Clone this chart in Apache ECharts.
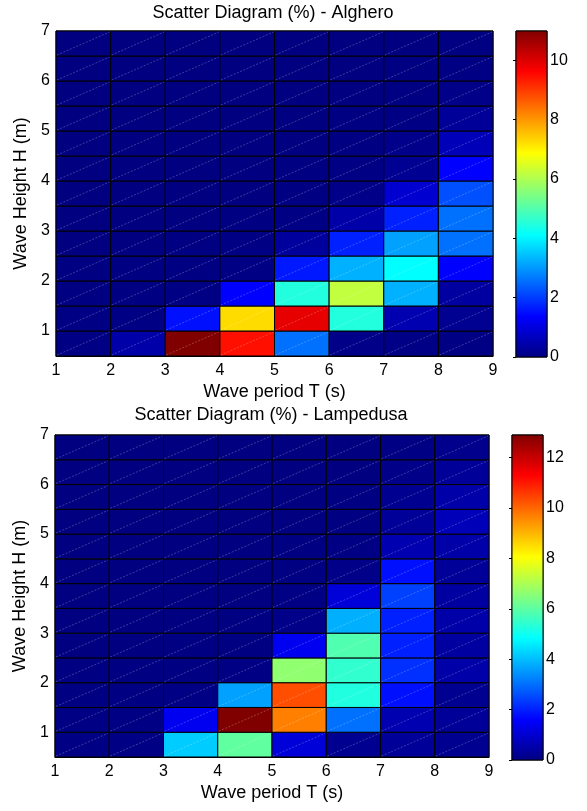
<!DOCTYPE html>
<html><head><meta charset="utf-8">
<script src="https://cdn.jsdelivr.net/npm/echarts@6/dist/echarts.min.js"></script>
<style>html,body{margin:0;padding:0;background:#fff}#c{width:587px;height:811px}</style>
</head><body><div id="c"></div>
<script>
// ---- data ----
const periodBinStarts = [1, 2, 3, 4, 5, 6, 7, 8];               // T bins (s), width 1
const heightBinStarts = [0.5, 1, 1.5, 2, 2.5, 3, 3.5, 4, 4.5, 5, 5.5, 6, 6.5]; // H bins (m), width 0.5
const periodBinWidth = 1;
const heightBinWidth = 0.5;
const xTickValues = [1, 2, 3, 4, 5, 6, 7, 8, 9];
const yTickValues = [1, 2, 3, 4, 5, 6, 7];
const titleAlghero = 'Scatter Diagram (%) - Alghero';
const titleLampedusa = 'Scatter Diagram (%) - Lampedusa';
const xName = 'Wave period T (s)';
const yName = 'Wave Height H (m)';

// rows: H bins bottom -> top ; columns: T bins 1-2 ... 8-9 (percent)
const alghero = [
  [0.05, 0.44, 10.98, 9.45, 2.58, 0.10, 0.08, 0.05],
  [0.05, 0.05, 1.54, 7.24, 9.87, 4.47, 0.52, 0.18],
  [0.03, 0.03, 0.05, 1.37, 4.47, 6.19, 3.27, 0.35],
  [0.02, 0.02, 0.03, 0.05, 1.63, 3.27, 4.12, 1.37],
  [0.01, 0.01, 0.02, 0.05, 0.30, 1.72, 3.10, 2.58],
  [0.01, 0.01, 0.01, 0.02, 0.05, 0.44, 1.72, 2.58],
  [0.00, 0.00, 0.01, 0.01, 0.03, 0.10, 0.87, 2.23],
  [0.00, 0.00, 0.00, 0.01, 0.02, 0.05, 0.20, 1.37],
  [0.00, 0.00, 0.00, 0.00, 0.01, 0.03, 0.12, 0.60],
  [0.00, 0.00, 0.00, 0.00, 0.00, 0.02, 0.05, 0.26],
  [0.00, 0.00, 0.00, 0.00, 0.00, 0.01, 0.03, 0.10],
  [0.00, 0.00, 0.00, 0.00, 0.00, 0.00, 0.02, 0.05],
  [0.00, 0.00, 0.00, 0.00, 0.00, 0.00, 0.01, 0.03]
];
const lampedusa = [
  [0.05, 0.05, 4.19, 6.05, 1.12, 0.20, 0.31, 0.20],
  [0.05, 0.05, 1.42, 12.9, 9.68, 3.03, 0.61, 0.31],
  [0.03, 0.03, 0.05, 3.64, 10.3, 5.24, 1.82, 0.20],
  [0.02, 0.02, 0.03, 0.05, 6.65, 5.45, 2.22, 0.52],
  [0.01, 0.01, 0.02, 0.03, 1.42, 5.85, 2.02, 0.41],
  [0.01, 0.01, 0.01, 0.02, 0.10, 3.83, 2.02, 0.52],
  [0.00, 0.00, 0.01, 0.01, 0.05, 1.12, 2.42, 0.41],
  [0.00, 0.00, 0.00, 0.01, 0.03, 0.10, 1.82, 0.31],
  [0.00, 0.00, 0.00, 0.00, 0.02, 0.05, 0.61, 0.52],
  [0.00, 0.00, 0.00, 0.00, 0.01, 0.03, 0.31, 0.71],
  [0.00, 0.00, 0.00, 0.00, 0.00, 0.02, 0.20, 0.52],
  [0.00, 0.00, 0.00, 0.00, 0.00, 0.01, 0.10, 0.31],
  [0.00, 0.00, 0.00, 0.00, 0.00, 0.00, 0.05, 0.15]
];
const algheroMax = 10.98;
const lampedusaMax = 12.9;
const algheroBarTicks = [0, 2, 4, 6, 8, 10];
const lampedusaBarTicks = [0, 2, 4, 6, 8, 10, 12];

// jet colormap
const jet = ['#000080', '#0000ff', '#0080ff', '#00ffff', '#80ff80', '#ffff00', '#ff8000', '#ff0000', '#800000'];

// ---- build ----
const FONT = 'Liberation Sans, Arial, Helvetica, sans-serif';
function toCells(matrix) {
  const out = [];
  matrix.forEach((row, i) => row.forEach((v, j) => out.push([periodBinStarts[j], heightBinStarts[i], v])));
  return out;
}
function renderCell(params, api) {
  const t = api.value(0), h = api.value(1);
  const p0 = api.coord([t, h]);
  const p1 = api.coord([t + periodBinWidth, h + heightBinWidth]);
  const color = api.visual('color');
  return {
    type: 'group',
    children: [
      { type: 'rect', shape: { x: p0[0], y: p1[1], width: p1[0] - p0[0], height: p0[1] - p1[1] },
        style: { fill: color, stroke: '#000', lineWidth: 1 } },
      { type: 'line', shape: { x1: p0[0] + 1, y1: p0[1] - 1, x2: p1[0] - 1, y2: p1[1] + 1 },
        style: { stroke: 'rgba(255,255,255,0.4)', lineWidth: 0.6, lineDash: [2, 1.5] } }
    ]
  };
}
function renderBar(params, api) {
  const p0 = api.coord([0, api.value(0)]);
  const p1 = api.coord([1, api.value(1)]);
  const stops = jet.map((c, i) => ({ offset: i / (jet.length - 1), color: c }));
  return {
    type: 'rect',
    shape: { x: p0[0], y: p1[1], width: p1[0] - p0[0], height: p0[1] - p1[1] },
    style: { fill: new echarts.graphic.LinearGradient(0, 1, 0, 0, stops), stroke: '#000', lineWidth: 1 }
  };
}

const grids = [
  { left: 56, top: 31, width: 437, height: 325 },
  { left: 516, top: 31, width: 31, height: 326 },
  { left: 55, top: 435, width: 434, height: 322 },
  { left: 512, top: 435, width: 31, height: 325 }
].map(g => Object.assign({ show: true, borderColor: '#000', borderWidth: 1, backgroundColor: 'transparent' }, g));

function mainX(gi) {
  return { type: 'value', gridIndex: gi, min: 1, max: 9, interval: 1,
    axisLine: { show: true, lineStyle: { color: '#000' } }, axisTick: { show: false }, splitLine: { show: false },
    axisLabel: { color: '#000', fontSize: 16, fontFamily: FONT, margin: 7, customValues: xTickValues },
    name: xName, nameLocation: 'middle', nameGap: 27,
    nameTextStyle: { color: '#000', fontSize: 18, fontFamily: FONT } };
}
function mainY(gi) {
  return { type: 'value', gridIndex: gi, min: 0.5, max: 7,
    axisLine: { show: true, lineStyle: { color: '#000' } }, axisTick: { show: false }, splitLine: { show: false },
    axisLabel: { color: '#000', fontSize: 16, fontFamily: FONT, margin: 6, customValues: yTickValues },
    name: yName, nameLocation: 'middle', nameGap: 23,
    nameTextStyle: { color: '#000', fontSize: 18, fontFamily: FONT } };
}
function barX(gi) {
  return { type: 'value', gridIndex: gi, min: 0, max: 1, show: false };
}
function barY(gi, vmax, ticks) {
  return { type: 'value', gridIndex: gi, min: 0, max: vmax, position: 'right',
    axisLine: { show: false }, splitLine: { show: false },
    axisTick: { show: true, inside: true, length: 3, lineStyle: { color: '#000' }, customValues: ticks },
    axisLabel: { color: '#000', fontSize: 16, fontFamily: FONT, margin: 3, customValues: ticks } };
}

const option = {
  animation: false,
  backgroundColor: '#fff',
  grid: grids,
  xAxis: [mainX(0), barX(1), mainX(2), barX(3)],
  yAxis: [mainY(0), barY(1, algheroMax, algheroBarTicks), mainY(2), barY(3, lampedusaMax, lampedusaBarTicks)],
  visualMap: [
    { show: false, seriesIndex: 0, dimension: 2, min: 0, max: algheroMax, inRange: { color: jet } },
    { show: false, seriesIndex: 2, dimension: 2, min: 0, max: lampedusaMax, inRange: { color: jet } }
  ],
  series: [
    { type: 'custom', xAxisIndex: 0, yAxisIndex: 0, data: toCells(alghero), renderItem: renderCell, encode: { x: 0, y: 1 } },
    { type: 'custom', xAxisIndex: 1, yAxisIndex: 1, data: [[0, algheroMax]], renderItem: renderBar },
    { type: 'custom', xAxisIndex: 2, yAxisIndex: 2, data: toCells(lampedusa), renderItem: renderCell, encode: { x: 0, y: 1 } },
    { type: 'custom', xAxisIndex: 3, yAxisIndex: 3, data: [[0, lampedusaMax]], renderItem: renderBar }
  ],
  graphic: [
    { type: 'text', x: 273, y: 13, style: { text: titleAlghero, fontSize: 18, fontFamily: FONT, fill: '#000', align: 'center', verticalAlign: 'middle' } },
    { type: 'text', x: 271, y: 415, style: { text: titleLampedusa, fontSize: 18, fontFamily: FONT, fill: '#000', align: 'center', verticalAlign: 'middle' } }
  ]
};
const chart = echarts.init(document.getElementById('c'), null, { renderer: 'canvas' });
chart.setOption(option);
</script>
</body></html>
